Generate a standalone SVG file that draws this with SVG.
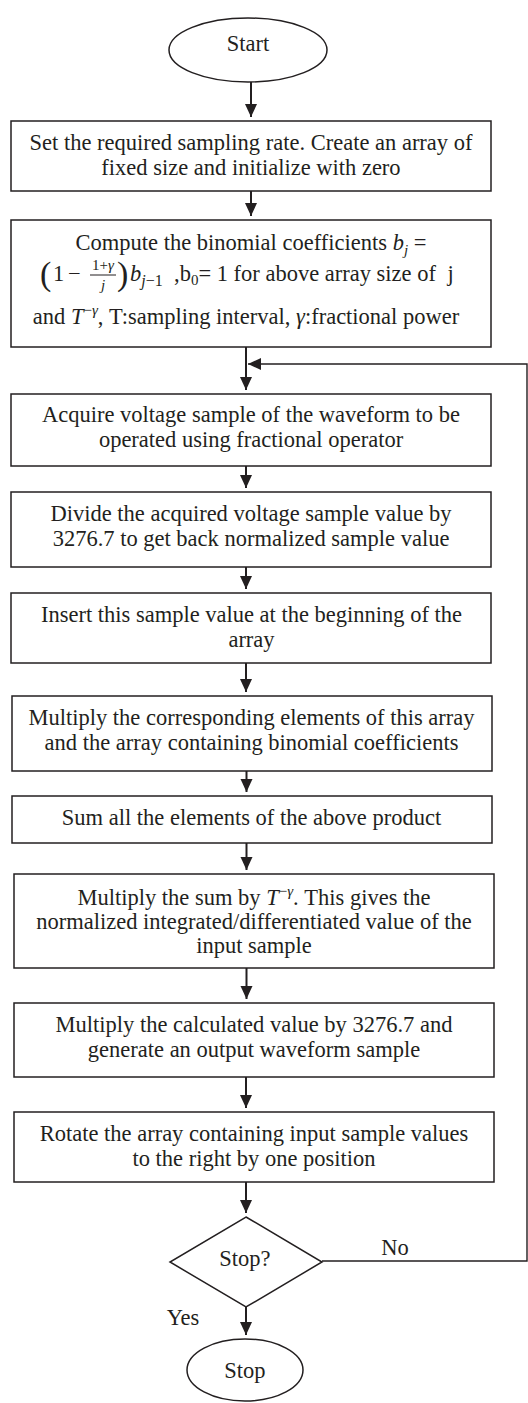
<svg xmlns="http://www.w3.org/2000/svg" width="528" height="1403" viewBox="0 0 528 1403">
<defs>
<style>
.box{fill:#fff;stroke:#231f20;stroke-width:1.5}
.t{font-family:"Liberation Serif","Times New Roman",serif;font-size:22.5px;fill:#231f20;text-anchor:middle}
.ts{font-family:"Liberation Serif","Times New Roman",serif;font-size:22.5px;fill:#231f20}
.i{font-style:italic}
.sub{font-size:15px}
.par{font-size:34px}
.c{fill:none;stroke:#231f20;stroke-width:2}
.cl{fill:none;stroke:#231f20;stroke-width:1.4}
</style>
<marker id="ah" markerUnits="userSpaceOnUse" markerWidth="14" markerHeight="14" viewBox="0 0 14 14" refX="13" refY="7" orient="auto"><path d="M0,1 L13,7 L0,13 Z" fill="#231f20"/></marker>
</defs>
<rect x="0" y="0" width="528" height="1403" fill="#fff"/>

<g id="connectors">
<path class="c" d="M251,82 V117" marker-end="url(#ah)"/>
<path class="c" d="M251,191 V216" marker-end="url(#ah)"/>
<path class="c" d="M246,347 V390" marker-end="url(#ah)"/>
<path class="c" d="M246,466 V488" marker-end="url(#ah)"/>
<path class="c" d="M246,567 V589" marker-end="url(#ah)"/>
<path class="c" d="M246,663 V692" marker-end="url(#ah)"/>
<path class="c" d="M246.5,771 V792" marker-end="url(#ah)"/>
<path class="c" d="M246.5,843 V870" marker-end="url(#ah)"/>
<path class="c" d="M246.5,968 V999" marker-end="url(#ah)"/>
<path class="c" d="M246,1077 V1108" marker-end="url(#ah)"/>
<path class="c" d="M246,1182 V1213" marker-end="url(#ah)"/>
<path class="c" d="M246,1307 V1335" marker-end="url(#ah)"/>
<path class="cl" d="M322,1261 H527 V364 H248" marker-end="url(#ah)"/>
<text class="t" x="395" y="1255">No</text>
<text class="t" x="183" y="1325">Yes</text>
</g>

<g id="start">
<ellipse cx="248" cy="50" rx="79" ry="32" class="box"/>
<text class="t" x="248" y="51">Start</text>
</g>

<g id="box1">
<rect class="box" x="11" y="121" width="480" height="70"/>
<text class="t" x="251" y="150">Set the required sampling rate. Create an array of</text>
<text class="t" x="251" y="175">fixed size and initialize with zero</text>
</g>

<g id="box2">
<rect class="box" x="11" y="220" width="480" height="127"/>
<text class="t" x="251" y="250">Compute the binomial coefficients <tspan class="i">b</tspan><tspan class="sub i" dy="5">j</tspan><tspan dy="-5"> =</tspan></text>
<text class="ts par" x="40" y="285">(</text>
<text class="ts" x="53" y="281">1</text>
<text class="ts" x="68" y="281">−</text>
<text class="t sub" x="103" y="270">1+<tspan class="i">γ</tspan></text>
<line x1="90" y1="275" x2="116" y2="275" stroke="#231f20" stroke-width="1"/>
<text class="t sub i" x="103" y="290">j</text>
<text class="ts par" x="117" y="285">)</text>
<text class="ts" x="130" y="281"><tspan class="i">b</tspan><tspan class="sub i" dy="5" style="font-size:16px">j</tspan><tspan class="sub" style="font-size:16px">−1</tspan></text>
<text class="ts" x="174" y="281">,b<tspan class="sub" dy="4">0</tspan><tspan dy="-4">= 1 for above array size of </tspan><tspan dx="6">j</tspan></text>
<text class="t" x="246" y="324">and <tspan class="i">T</tspan><tspan class="sub" dy="-9">−<tspan class="i">γ</tspan></tspan><tspan dy="9">, T:sampling interval, </tspan><tspan class="i">γ</tspan>:fractional power</text>
</g>

<g id="box3">
<rect class="box" x="11" y="394" width="480" height="72"/>
<text class="t" x="251" y="422">Acquire voltage sample of the waveform to be</text>
<text class="t" x="251" y="447">operated using fractional operator</text>
</g>

<g id="box4">
<rect class="box" x="11" y="492" width="480" height="75"/>
<text class="t" x="251" y="521">Divide the acquired voltage sample value by</text>
<text class="t" x="251" y="546">3276.7 to get back normalized sample value</text>
</g>

<g id="box5">
<rect class="box" x="11" y="593" width="480" height="70"/>
<text class="t" x="251.5" y="622">Insert this sample value at the beginning of the</text>
<text class="t" x="251.5" y="647">array</text>
</g>

<g id="box6">
<rect class="box" x="12" y="696" width="480" height="75"/>
<text class="t" x="251.5" y="725">Multiply the corresponding elements of this array</text>
<text class="t" x="251.5" y="750">and the array containing binomial coefficients</text>
</g>

<g id="box7">
<rect class="box" x="12" y="796" width="480" height="47"/>
<text class="t" x="251.5" y="825">Sum all the elements of the above product</text>
</g>

<g id="box8">
<rect class="box" x="14" y="874" width="480" height="94"/>
<text class="t" x="254" y="905">Multiply the sum by <tspan class="i">T</tspan><tspan class="sub" dy="-9">−<tspan class="i">γ</tspan></tspan><tspan dy="9">. This gives the</tspan></text>
<text class="t" x="254" y="929">normalized integrated/differentiated value of the</text>
<text class="t" x="254" y="953">input sample</text>
</g>

<g id="box9">
<rect class="box" x="14" y="1003" width="480" height="74"/>
<text class="t" x="254" y="1032">Multiply the calculated value by 3276.7 and</text>
<text class="t" x="254" y="1057">generate an output waveform sample</text>
</g>

<g id="box10">
<rect class="box" x="14" y="1112" width="480" height="70"/>
<text class="t" x="254" y="1141">Rotate the array containing input sample values</text>
<text class="t" x="254" y="1166">to the right by one position</text>
</g>

<g id="decision">
<polygon class="box" points="246,1217 322,1262 246,1307 170,1262"/>
<text class="t" x="245" y="1266">Stop?</text>
</g>

<g id="stop">
<ellipse cx="245" cy="1370" rx="58" ry="31" class="box"/>
<text class="t" x="245" y="1378">Stop</text>
</g>
</svg>
